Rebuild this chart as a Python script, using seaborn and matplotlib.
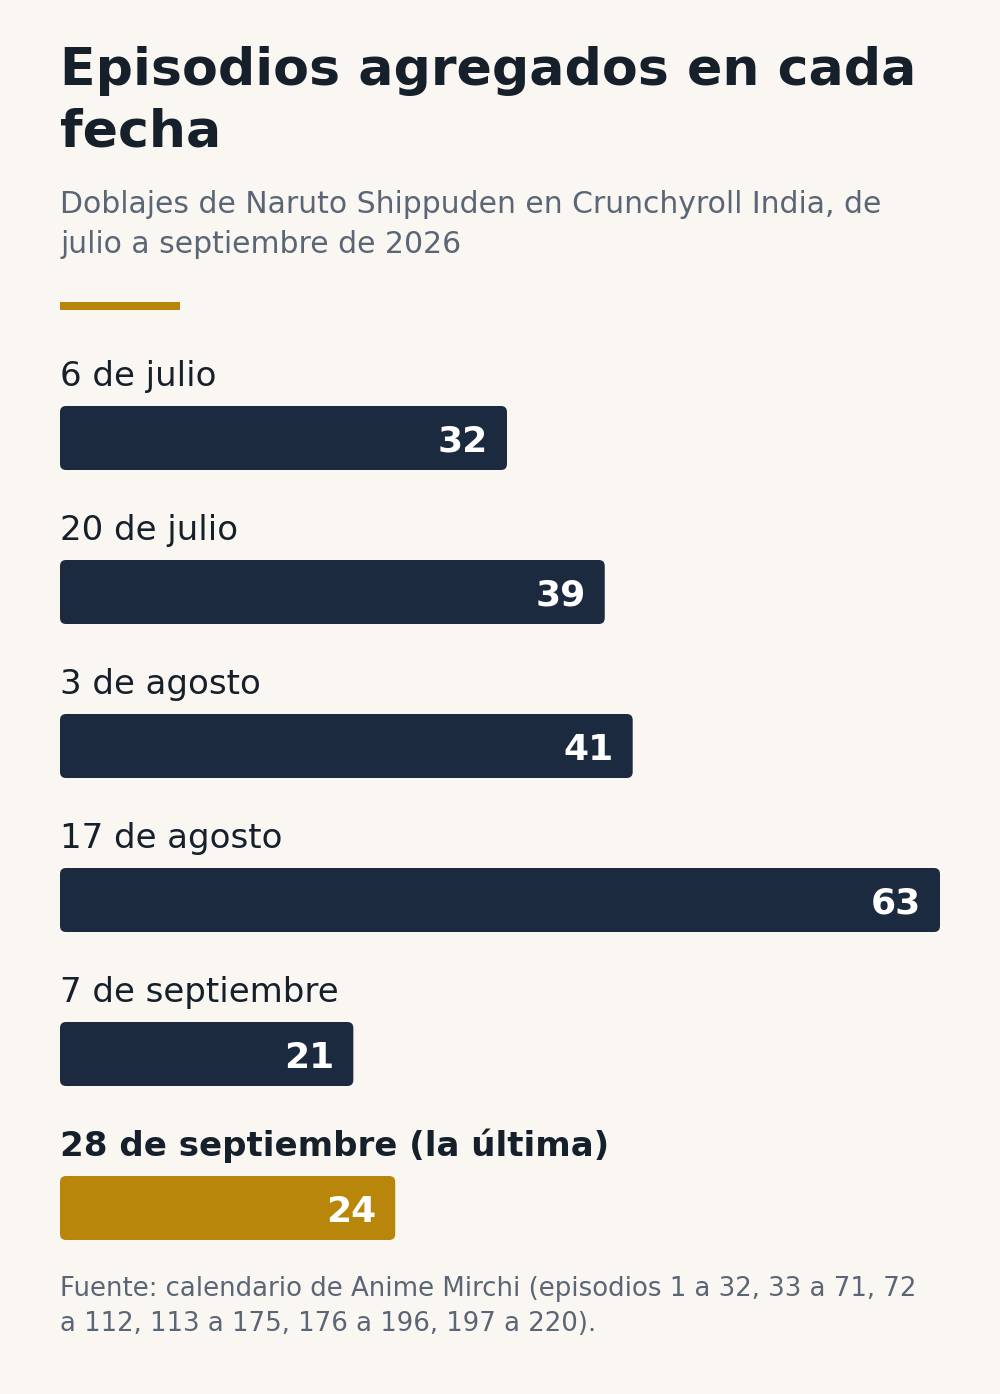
import matplotlib
matplotlib.use("Agg")
import matplotlib.pyplot as plt
from matplotlib.patches import FancyBboxPatch, Rectangle
import seaborn as sns

# -------------------------------
# Data
# -------------------------------
dates = ["6 de julio", "20 de julio", "3 de agosto", "17 de agosto",
         "7 de septiembre", "28 de septiembre (la última)"]
episodes = [32, 39, 41, 63, 21, 24]

title_lines = ["Episodios agregados en cada", "fecha"]
subtitle_lines = ["Doblajes de Naruto Shippuden en Crunchyroll India, de",
                  "julio a septiembre de 2026"]
footer_lines = ["Fuente: calendario de Anime Mirchi (episodios 1 a 32, 33 a 71, 72",
                "a 112, 113 a 175, 176 a 196, 197 a 220)."]

# -------------------------------
# Style
# -------------------------------
BG = "#faf7f3"
NAVY = "#1c2a40"
GOLD = "#b8860b"
DARK = "#15202b"
GREY = "#5a6675"

sns.set_theme(style="white")
plt.rcParams["font.family"] = ["DejaVu Sans"]

W, H = 1000, 1394
fig = plt.figure(figsize=(W / 100, H / 100), dpi=100, facecolor=BG)


def fy(px):
    return 1 - px / H


# header
fig.text(0.06, fy(85), title_lines[0], fontsize=37.5, fontweight="bold",
         color=DARK, va="baseline", ha="left")
fig.text(0.06, fy(146.7), title_lines[1], fontsize=37.5, fontweight="bold",
         color=DARK, va="baseline", ha="left")
fig.text(0.06, fy(212.7), subtitle_lines[0], fontsize=21.5, color=GREY,
         va="baseline", ha="left")
fig.text(0.06, fy(252.7), subtitle_lines[1], fontsize=21.5, color=GREY,
         va="baseline", ha="left")
fig.patches.append(Rectangle((0.06, fy(310)), 0.12, 8 / H,
                             transform=fig.transFigure, color=GOLD, lw=0))

# -------------------------------
# Bars
# -------------------------------
top_px, bot_px = 314.8, 1285
ax = fig.add_axes([0.06, (H - bot_px) / H, 0.88, (bot_px - top_px) / H])
ax.set_facecolor(BG)

colors = [NAVY] * (len(dates) - 1) + [GOLD]
sns.barplot(x=episodes, y=dates, hue=dates, palette=colors, legend=False,
            orient="h", width=64 / 154, ax=ax, saturation=1)

ax.set_xlim(0, 63)
ax.set_ylim(5.5, -0.8)
ax.axis("off")

px_x = 880 / 63
px_y = 154
r = 6 / px_x
for patch in list(ax.patches):
    x0, y0 = patch.get_x(), patch.get_y()
    w, h = patch.get_width(), patch.get_height()
    fc = patch.get_facecolor()
    patch.remove()
    ax.add_patch(FancyBboxPatch((x0, y0), w, h,
                                boxstyle=f"round,pad=0,rounding_size={r}",
                                mutation_aspect=px_x / px_y,
                                facecolor=fc, edgecolor="none"))

for i, (d, v) in enumerate(zip(dates, episodes)):
    last = i == len(dates) - 1
    ax.text(0, i - 52 / px_y, d, fontsize=24.5,
            fontweight="bold" if last else "normal", color=DARK,
            ha="left", va="baseline")
    ax.text(v - 19 / px_x, i + 13.7 / px_y, str(v), fontsize=26,
            fontweight="bold", color="white", ha="right", va="baseline")

# footer
fig.text(0.06, fy(1296), footer_lines[0], fontsize=18.7, color=GREY,
         va="baseline", ha="left")
fig.text(0.06, fy(1330.7), footer_lines[1], fontsize=18.7, color=GREY,
         va="baseline", ha="left")

plt.savefig("out.png", dpi=100, facecolor=BG)
